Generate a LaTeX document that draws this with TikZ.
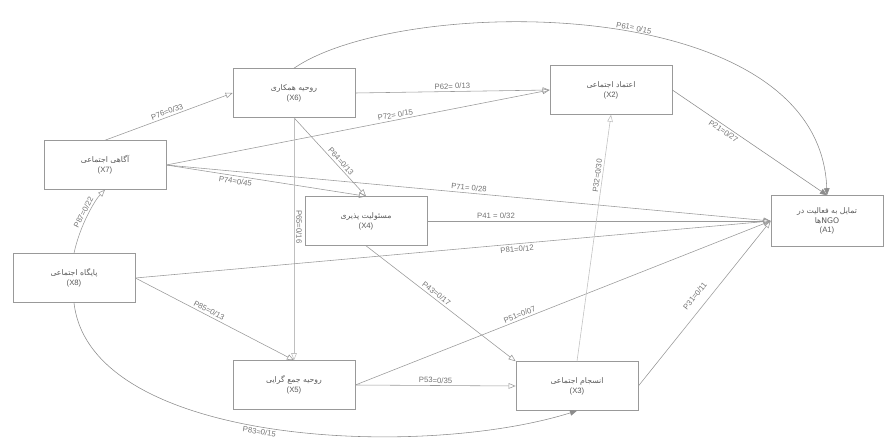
\documentclass[tikz,border=0pt]{standalone}
\usepackage{fontspec}
\setmainfont{Liberation Sans}
\newfontfamily\farsi[Script=Arabic]{DejaVu Sans}
\TeXXeTstate=1
\usetikzlibrary{arrows.meta, positioning}
\newcommand{\fa}[1]{{\farsi\beginR #1\endR}}

\begin{document}
\begin{tikzpicture}[
        x=0.025cm, y=-0.025cm,
        var/.style={rectangle, draw=black!40, line width=0.5pt, minimum width=3.05cm, minimum height=1.22cm, align=center, font=\fontsize{5.5}{7}\selectfont, text=black!65},
        coef/.style={font=\fontsize{5.5}{6.5}\selectfont, text=black!55, sloped, inner sep=1.5pt},
        arrow/.style={-{Triangle[open, length=5pt, width=4pt]}, draw=black!40, line width=0.4pt},
        farrow/.style={-{Triangle[length=5pt, width=4pt]}, draw=black!45, line width=0.4pt}
    ]
        \useasboundingbox (0,0) rectangle (884,447);

        \node[var] (x6) at (294,93) {\fa{روحیه همکاری}\\(X6)};
        \node[var] (x2) at (611,90) {\fa{اعتماد اجتماعی}\\(X2)};
        \node[var] (x7) at (105,165) {\fa{آگاهی اجتماعی}\\(X7)};
        \node[var] (x4) at (366,221) {\fa{مسئولیت پذیری}\\(X4)};
        \node[var] (x8) at (74,278) {\fa{پایگاه اجتماعی}\\(X8)};
        \node[var, minimum width=2.8cm, minimum height=1.27cm] (a1) at (827,221) {\fa{تمایل به فعالیت در}\\{\farsi\beginR\beginL NGO\endL ها\endR}\\(A1)};
        \node[var] (x5) at (294,385) {\fa{روحیه جمع گرایی}\\(X5)};
        \node[var] (x3) at (577,386) {\fa{انسجام اجتماعی}\\(X3)};

        \draw[farrow] (x6.north) .. controls (400,-5) and (820,-10) .. node[coef, above, pos=0.55] {P61= 0/15} (a1.north);
        \draw[arrow] (x7.north) -- node[coef, above] {P76=0/33} (x6.west);
        \draw[arrow] (x6.east) -- node[coef, above] {P62= 0/13} (x2.west);
        \draw[arrow] (x7.east) -- node[coef, above, pos=0.6] {P72= 0/15} (x2.west);
        \draw[arrow] (x6.south) -- node[coef, above, pos=0.6] {P64=0/13} (x4.north);
        \draw[arrow] (x7.east) -- node[coef, below, pos=0.35] {P74=0/45} (x4.north);
        \draw[arrow] (x7.east) -- node[coef, above, pos=0.5] {P71= 0/28} (a1.west);
        \draw[arrow, draw=black!25] (x6.south) -- node[coef, above, pos=0.45] {P65=0/16} (x5.north);
        \draw[arrow] (x4.east) -- node[coef, above, pos=0.2] {P41 = 0/32} (a1.west);
        \draw[farrow] (x2.east) -- node[coef, below, pos=0.35] {P21=0/27} (a1.north);
        \draw[arrow] (x8.north) .. controls (80,225) and (95,200) .. node[coef, above] {P87=0/22} (x7.south);
        \draw[arrow] (x8.east) -- node[coef, below, pos=0.6] {P81=0/12} (a1.west);
        \draw[arrow] (x8.east) -- node[coef, above, pos=0.45] {P85=0/13} (x5.north);
        \draw[arrow] (x4.south) -- node[coef, above, pos=0.45] {P43=0/17} (x3.north west);
        \draw[arrow] (x5.east) -- node[coef, above, pos=0.4] {P51=0/07} (a1.west);
        \draw[arrow] (x5.east) -- node[coef, above] {P53=0/35} (x3.west);
        \draw[arrow, draw=black!25] (x3.north) -- node[coef, above, pos=0.75] {P32=0/30} (x2.south);
        \draw[arrow] (x3.east) -- node[coef, above=5pt, pos=0.5] {P31=0/11} (a1.west);
        \draw[farrow] (x8.south) .. controls (90,445) and (420,460) .. node[coef, below, pos=0.48] {P83=0/15} (x3.south);
    \end{tikzpicture}
\end{document}
